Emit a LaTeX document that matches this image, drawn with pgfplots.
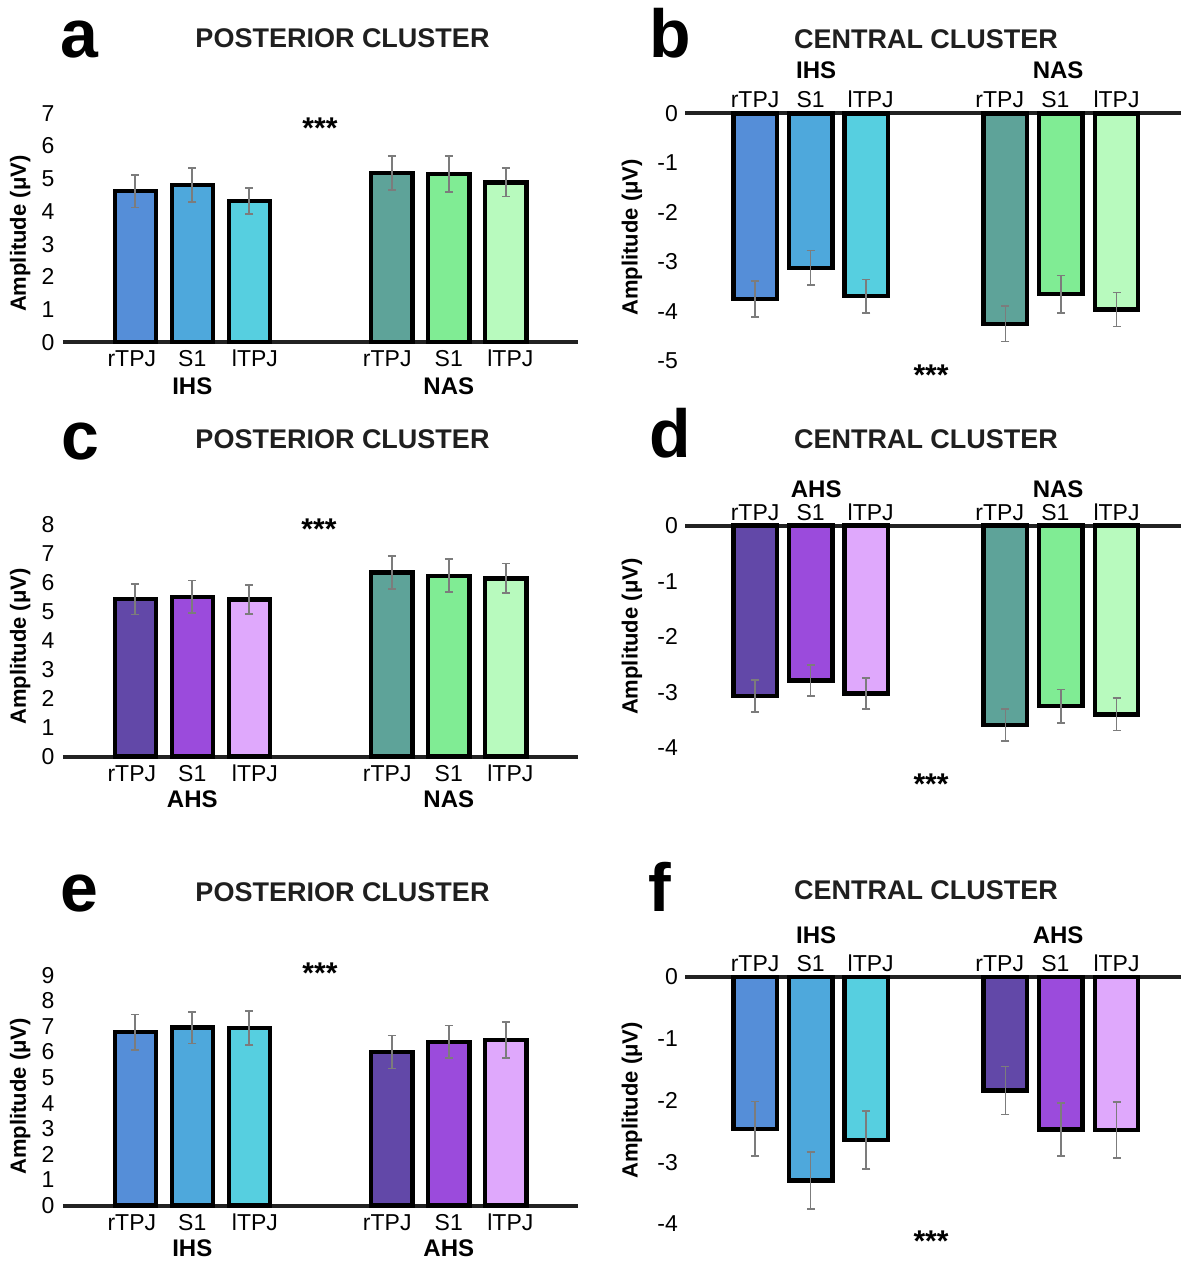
\documentclass[border=0pt]{standalone}
\usepackage{pgfplots}
\pgfplotsset{compat=1.18}
\usepackage{fontspec}
\setmainfont{Liberation Sans}

\definecolor{ihsR}{HTML}{558ED8}
\definecolor{ihsS}{HTML}{4EA8DC}
\definecolor{ihsL}{HTML}{56CFE0}
\definecolor{nasR}{HTML}{5EA399}
\definecolor{nasS}{HTML}{80EC94}
\definecolor{nasL}{HTML}{B8FABE}
\definecolor{ahsR}{HTML}{6248A8}
\definecolor{ahsS}{HTML}{9B4BDC}
\definecolor{ahsL}{HTML}{DFA8FC}
\definecolor{errgray}{HTML}{7C7C7C}
\definecolor{axisline}{HTML}{222222}

\tikzset{
  cat/.style={anchor=base, inner sep=0pt, font=\fontsize{11.5}{12}\selectfont},
  grp/.style={anchor=base, inner sep=0pt, font=\fontsize{12}{13}\selectfont\bfseries},
  stars/.style={anchor=north, inner sep=0pt, font=\fontsize{15}{16}\selectfont\bfseries},
  ttl/.style={anchor=base, inner sep=0pt, font=\fontsize{13.5}{15}\selectfont\bfseries, text=black!88},
  letter/.style={anchor=base, inner sep=0pt, font=\fontsize{34}{36}\selectfont\bfseries},
}

\pgfplotsset{
  bar/.style={ybar, bar shift=0pt, draw=black, line width=2.2pt,
    error bars/y dir=both, error bars/y explicit,
    error bars/error bar style={errgray, line width=0.8pt},
    error bars/error mark options={errgray, line width=0.8pt, mark size=2pt, rotate=90}},
  common/.style={scale only axis, clip=false,
    xtick=\empty, major tick length=0pt,
    x axis line style={-, line width=2pt, color=axisline},
    y axis line style={draw=none},
    tick label style={font=\fontsize{11.5}{12}\selectfont},
    /pgf/number format/assume math mode=true,
    ylabel={Amplitude (μV)},
    label style={font=\fontsize{11}{12}\selectfont\bfseries},
  },
  leftax/.style={common, width=257.5pt, xmin=-1.268, xmax=7.767, ymin=0,
    axis x line*=bottom, axis y line*=left, anchor=south west,
    yticklabel style={xshift=-0.7pt},
    ylabel style={at={(axis description cs:-0.0831,0.474)}, anchor=center}},
  rightax/.style={common, width=248pt, xmin=-1.26, xmax=7.66, ymax=0,
    axis x line*=top, axis y line*=left, anchor=south west,
    bar width=0.78,
    ylabel style={at={(axis description cs:-0.1069,0.5)}, anchor=center}},
}

\newcommand\lowlabels[3]{%
  \node[cat, yshift=-12.2pt] at (axis cs:-0.06,0) {rTPJ};
  \node[cat, yshift=-12.2pt] at (axis cs:1,0) {S1};
  \node[cat, yshift=-12.2pt] at (axis cs:2.1,0) {lTPJ};
  \node[cat, yshift=-12.2pt] at (axis cs:4.42,0) {rTPJ};
  \node[cat, yshift=-12.2pt] at (axis cs:5.5,0) {S1};
  \node[cat, yshift=-12.2pt] at (axis cs:6.58,0) {lTPJ};
  \node[grp, yshift=-#3] at (axis cs:1,0) {#1};
  \node[grp, yshift=-#3] at (axis cs:5.5,0) {#2};
}
\newcommand\highlabels[3]{%
  \node[cat, yshift=2.8pt] at (axis cs:0,0) {rTPJ};
  \node[cat, yshift=2.8pt] at (axis cs:1,0) {S1};
  \node[cat, yshift=2.8pt] at (axis cs:2.08,0) {lTPJ};
  \node[cat, yshift=2.8pt] at (axis cs:4.4,0) {rTPJ};
  \node[cat, yshift=2.8pt] at (axis cs:5.4,0) {S1};
  \node[cat, yshift=2.8pt] at (axis cs:6.5,0) {lTPJ};
  \node[grp, yshift=#3] at (axis cs:1.1,0) {#1};
  \node[grp, yshift=#3] at (axis cs:5.45,0) {#2};
}

\begin{document}
\begin{tikzpicture}
\path[use as bounding box] (0pt,0pt) rectangle (590.5pt,630.5pt);

% ---------- panel a ----------
\begin{axis}[leftax, at={(31.5pt,459.35pt)}, height=114.5pt, ymax=7, ytick={0,...,7}, bar width=0.72]
\addplot[bar, fill=ihsR] coordinates {(0,4.62) +- (0,0.50)};
\addplot[bar, fill=ihsS] coordinates {(1,4.81) +- (0,0.52)};
\addplot[bar, fill=ihsL] coordinates {(2,4.32) +- (0,0.40)};
\addplot[bar, fill=nasR] coordinates {(4.5,5.18) +- (0,0.52)};
\addplot[bar, fill=nasS] coordinates {(5.5,5.15) +- (0,0.55)};
\addplot[bar, fill=nasL] coordinates {(6.5,4.89) +- (0,0.43)};
\lowlabels{IHS}{NAS}{26.3pt}
\end{axis}

% ---------- panel c ----------
\begin{axis}[leftax, at={(31.5pt,252.15pt)}, height=116.2pt, ymax=8, ytick={0,...,8}, bar width=0.72]
\addplot[bar, fill=ahsR] coordinates {(0,5.42) +- (0,0.53)};
\addplot[bar, fill=ahsS] coordinates {(1,5.50) +- (0,0.56)};
\addplot[bar, fill=ahsL] coordinates {(2,5.41) +- (0,0.50)};
\addplot[bar, fill=nasR] coordinates {(4.5,6.34) +- (0,0.57)};
\addplot[bar, fill=nasS] coordinates {(5.5,6.23) +- (0,0.57)};
\addplot[bar, fill=nasL] coordinates {(6.5,6.14) +- (0,0.51)};
\lowlabels{AHS}{NAS}{25.2pt}
\end{axis}

% ---------- panel e ----------
\begin{axis}[leftax, at={(31.5pt,27.65pt)}, height=115.3pt, ymax=9, ytick={0,...,9}, bar width=0.72]
\addplot[bar, fill=ihsR] coordinates {(0,6.77) +- (0,0.70)};
\addplot[bar, fill=ihsS] coordinates {(1,6.95) +- (0,0.62)};
\addplot[bar, fill=ihsL] coordinates {(2,6.94) +- (0,0.66)};
\addplot[bar, fill=ahsR] coordinates {(4.5,6.00) +- (0,0.65)};
\addplot[bar, fill=ahsS] coordinates {(5.5,6.40) +- (0,0.64)};
\addplot[bar, fill=ahsL] coordinates {(6.5,6.46) +- (0,0.70)};
\lowlabels{IHS}{AHS}{25.3pt}
\end{axis}

% ---------- panel b ----------
\begin{axis}[rightax, at={(342.5pt,450pt)}, height=123.75pt, ymin=-5, ytick={-5,...,0}]
\addplot[bar, fill=ihsR] coordinates {(0,-3.75) +- (0,0.36)};
\addplot[bar, fill=ihsS] coordinates {(1,-3.12) +- (0,0.35)};
\addplot[bar, fill=ihsL] coordinates {(2,-3.69) +- (0,0.34)};
\addplot[bar, fill=nasR] coordinates {(4.5,-4.25) +- (0,0.36)};
\addplot[bar, fill=nasS] coordinates {(5.5,-3.65) +- (0,0.38)};
\addplot[bar, fill=nasL] coordinates {(6.5,-3.96) +- (0,0.34)};
\highlabels{IHS}{NAS}{17.5pt}
\end{axis}

% ---------- panel d ----------
\begin{axis}[rightax, at={(342.5pt,256.65pt)}, height=111pt, ymin=-4, ytick={-4,...,0}]
\addplot[bar, fill=ahsR] coordinates {(0,-3.07) +- (0,0.29)};
\addplot[bar, fill=ahsS] coordinates {(1,-2.79) +- (0,0.28)};
\addplot[bar, fill=ahsL] coordinates {(2,-3.02) +- (0,0.28)};
\addplot[bar, fill=nasR] coordinates {(4.5,-3.59) +- (0,0.29)};
\addplot[bar, fill=nasS] coordinates {(5.5,-3.25) +- (0,0.30)};
\addplot[bar, fill=nasL] coordinates {(6.5,-3.40) +- (0,0.29)};
\highlabels{AHS}{NAS}{14pt}
\end{axis}

% ---------- panel f ----------
\begin{axis}[rightax, at={(342.5pt,18.55pt)}, height=123.6pt, ymin=-4, ytick={-4,...,0}]
\addplot[bar, fill=ihsR] coordinates {(0,-2.46) +- (0,0.44)};
\addplot[bar, fill=ihsS] coordinates {(1,-3.30) +- (0,0.46)};
\addplot[bar, fill=ihsL] coordinates {(2,-2.64) +- (0,0.47)};
\addplot[bar, fill=ahsR] coordinates {(4.5,-1.84) +- (0,0.39)};
\addplot[bar, fill=ahsS] coordinates {(5.5,-2.47) +- (0,0.43)};
\addplot[bar, fill=ahsL] coordinates {(6.5,-2.48) +- (0,0.45)};
\highlabels{IHS}{AHS}{16.5pt}
\end{axis}

% ---------- titles, letters, significance ----------
\node[ttl] at (171.25pt,606.5pt) {POSTERIOR CLUSTER};
\node[ttl] at (171.25pt,406pt) {POSTERIOR CLUSTER};
\node[ttl] at (171.25pt,179.5pt) {POSTERIOR CLUSTER};
\node[ttl] at (463pt,606.35pt) {CENTRAL CLUSTER};
\node[ttl] at (463pt,406pt) {CENTRAL CLUSTER};
\node[ttl] at (463pt,180.5pt) {CENTRAL CLUSTER};

\node[letter] at (39.75pt,601.5pt) {a};
\node[letter] at (335pt,601.5pt) {b};
\node[letter] at (40pt,400.5pt) {c};
\node[letter] at (335pt,401.5pt) {d};
\node[letter] at (39.75pt,174.5pt) {e};
\node[letter] at (330pt,174.5pt) {f};

\node[stars] at (160pt,572pt) {***};
\node[stars] at (159.5pt,371.5pt) {***};
\node[stars] at (160pt,149.5pt) {***};
\node[stars] at (465.5pt,448.5pt) {***};
\node[stars] at (465.5pt,244pt) {***};
\node[stars] at (465.5pt,15.5pt) {***};
\end{tikzpicture}
\end{document}
